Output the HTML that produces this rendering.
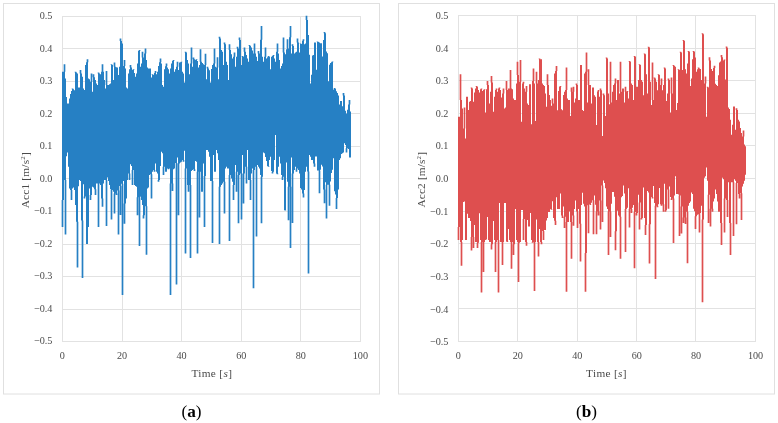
<!DOCTYPE html>
<html><head><meta charset="utf-8"><title>Acceleration time histories</title>
<style>
html,body{margin:0;padding:0;background:#fff;}
svg{display:block;}
.tk{font-family:"Liberation Serif",serif;font-size:11.3px;fill:#4a4a4a;}
.cap{font-family:"Liberation Serif",serif;font-size:17.2px;fill:#000;}
</style></head><body>
<svg width="778" height="423" viewBox="0 0 778 423">
<defs><filter id="soft" x="-2%" y="-2%" width="104%" height="104%"><feGaussianBlur stdDeviation="0.35"/></filter></defs>
<rect width="778" height="423" fill="#fff"/>
<rect x="3.5" y="3.5" width="376.0" height="390.5" fill="none" stroke="#e0e0e0" stroke-width="1"/>
<path d="M62 16.5H361M62 48.5H361M62 81.5H361M62 113.5H361M62 146.5H361M62 178.5H361M62 211.5H361M62 244.5H361M62 276.5H361M62 309.5H361M62 341.5H361M62.5 16V342M122.5 16V342M181.5 16V342M241.5 16V342M300.5 16V342M360.5 16V342" stroke="#e2e2e2" stroke-width="1" fill="none"/>
<path d="M62 71.8h1V227.0h-1ZM63 71.8h1V200.1h-1ZM64 64.3h1V180.1h-1ZM65 78.5h1V234.5h-1ZM66 97.0h1V156.3h-1ZM67 103.5h1V152.5h-1ZM68 103.5h1V166.7h-1ZM69 98.5h1V188.4h-1ZM70 94.0h1V190.1h-1ZM71 91.0h1V200.1h-1ZM72 88.5h1V188.4h-1ZM73 89.3h1V187.6h-1ZM74 90.2h1V190.1h-1ZM75 71.8h1V205.1h-1ZM76 72.6h1V221.7h-1ZM77 73.4h1V267.4h-1ZM78 87.6h1V186.3h-1ZM79 87.6h1V180.1h-1ZM80 70.1h1V181.1h-1ZM81 73.4h1V220.6h-1ZM82 76.8h1V278.0h-1ZM83 88.5h1V184.3h-1ZM84 90.0h1V198.5h-1ZM85 65.1h1V196.4h-1ZM86 62.2h1V244.0h-1ZM87 59.2h1V244.0h-1ZM88 78.5h1V227.0h-1ZM89 79.3h1V188.4h-1ZM90 81.8h1V200.1h-1ZM91 73.4h1V195.1h-1ZM92 91.8h1V186.8h-1ZM93 74.3h1V187.6h-1ZM94 77.2h1V189.3h-1ZM95 80.1h1V195.1h-1ZM96 83.5h1V183.4h-1ZM97 85.1h1V183.4h-1ZM98 72.6h1V227.0h-1ZM99 73.4h1V183.4h-1ZM100 74.3h1V185.1h-1ZM101 71.8h1V198.5h-1ZM102 64.3h1V206.8h-1ZM103 71.8h1V183.4h-1ZM104 80.1h1V180.1h-1ZM105 88.5h1V180.1h-1ZM106 70.9h1V226.0h-1ZM107 85.1h1V177.6h-1ZM108 85.1h1V180.9h-1ZM109 84.3h1V185.1h-1ZM110 83.5h1V189.3h-1ZM111 64.3h1V219.6h-1ZM112 65.1h1V190.1h-1ZM113 80.1h1V191.8h-1ZM114 62.6h1V213.5h-1ZM115 66.8h1V193.4h-1ZM116 67.2h1V195.1h-1ZM117 67.6h1V190.5h-1ZM118 75.1h1V234.5h-1ZM119 66.8h1V185.9h-1ZM120 38.4h1V215.0h-1ZM121 40.9h1V183.8h-1ZM122 43.4h1V295.0h-1ZM123 65.9h1V180.9h-1ZM124 60.1h1V223.8h-1ZM125 68.4h1V203.5h-1ZM126 87.6h1V198.5h-1ZM127 88.5h1V180.1h-1ZM128 73.4h1V173.4h-1ZM129 69.3h1V180.1h-1ZM130 65.1h1V164.2h-1ZM131 67.6h1V165.9h-1ZM132 70.1h1V185.1h-1ZM133 69.3h1V170.1h-1ZM134 73.0h1V185.1h-1ZM135 76.8h1V185.9h-1ZM136 73.4h1V186.8h-1ZM137 63.4h1V215.2h-1ZM138 50.9h1V197.2h-1ZM139 50.1h1V246.0h-1ZM140 66.8h1V196.8h-1ZM141 63.4h1V200.1h-1ZM142 51.7h1V205.1h-1ZM143 57.6h1V218.5h-1ZM144 53.4h1V215.2h-1ZM145 48.4h1V206.3h-1ZM146 60.1h1V254.7h-1ZM147 67.6h1V188.4h-1ZM148 68.4h1V187.6h-1ZM149 68.4h1V175.1h-1ZM150 68.4h1V174.2h-1ZM151 77.6h1V198.5h-1ZM152 74.3h1V171.7h-1ZM153 75.1h1V170.1h-1ZM154 73.0h1V171.7h-1ZM155 70.9h1V163.4h-1ZM156 74.3h1V171.7h-1ZM157 71.8h1V173.4h-1ZM158 65.9h1V181.7h-1ZM159 62.2h1V180.1h-1ZM160 58.4h1V165.9h-1ZM161 63.4h1V151.7h-1ZM162 85.1h1V153.3h-1ZM163 86.7h1V175.1h-1ZM164 69.3h1V166.7h-1ZM165 66.3h1V171.7h-1ZM166 63.4h1V171.7h-1ZM167 67.6h1V168.4h-1ZM168 69.3h1V169.2h-1ZM169 73.4h1V168.4h-1ZM170 68.4h1V295.0h-1ZM171 63.4h1V183.4h-1ZM172 60.9h1V190.9h-1ZM173 60.1h1V169.2h-1ZM174 71.8h1V168.4h-1ZM175 69.3h1V162.9h-1ZM176 66.8h1V284.5h-1ZM177 61.7h1V157.5h-1ZM178 70.1h1V215.3h-1ZM179 62.6h1V163.4h-1ZM180 62.2h1V162.5h-1ZM181 61.7h1V161.7h-1ZM182 71.8h1V160.0h-1ZM183 73.4h1V161.7h-1ZM184 82.5h1V150.8h-1ZM185 51.7h1V253.6h-1ZM186 52.6h1V168.4h-1ZM187 60.1h1V185.1h-1ZM188 63.4h1V191.8h-1ZM189 74.2h1V185.1h-1ZM190 63.5h1V257.9h-1ZM191 47.6h1V170.9h-1ZM192 66.8h1V170.1h-1ZM193 57.6h1V169.2h-1ZM194 59.3h1V170.9h-1ZM195 60.1h1V160.9h-1ZM196 59.3h1V161.7h-1ZM197 61.0h1V253.6h-1ZM198 67.6h1V171.7h-1ZM199 65.1h1V217.4h-1ZM200 49.3h1V171.7h-1ZM201 61.8h1V191.8h-1ZM202 63.0h1V191.8h-1ZM203 64.3h1V163.4h-1ZM204 65.1h1V227.0h-1ZM205 53.8h1V175.9h-1ZM206 79.2h1V150.0h-1ZM207 66.8h1V150.0h-1ZM208 68.5h1V151.7h-1ZM209 70.2h1V156.7h-1ZM210 82.5h1V180.9h-1ZM211 68.9h1V180.9h-1ZM212 65.1h1V243.0h-1ZM213 63.5h1V155.0h-1ZM214 48.4h1V171.7h-1ZM215 66.8h1V171.7h-1ZM216 67.6h1V150.0h-1ZM217 57.3h1V153.3h-1ZM218 79.2h1V160.0h-1ZM219 36.7h1V244.0h-1ZM220 38.4h1V186.8h-1ZM221 50.1h1V185.1h-1ZM222 51.8h1V183.4h-1ZM223 65.1h1V181.7h-1ZM224 42.6h1V213.5h-1ZM225 44.3h1V168.4h-1ZM226 61.8h1V166.7h-1ZM227 65.1h1V168.4h-1ZM228 80.0h1V168.4h-1ZM229 44.3h1V240.9h-1ZM230 50.1h1V175.1h-1ZM231 54.3h1V178.4h-1ZM232 58.5h1V181.7h-1ZM233 56.8h1V200.1h-1ZM234 52.6h1V185.1h-1ZM235 66.8h1V165.0h-1ZM236 56.8h1V191.8h-1ZM237 46.8h1V171.7h-1ZM238 48.4h1V223.2h-1ZM239 37.6h1V175.1h-1ZM240 40.1h1V173.4h-1ZM241 65.1h1V219.6h-1ZM242 55.9h1V155.0h-1ZM243 56.8h1V203.5h-1ZM244 47.6h1V173.4h-1ZM245 51.8h1V166.7h-1ZM246 55.1h1V183.4h-1ZM247 58.5h1V150.0h-1ZM248 61.8h1V180.1h-1ZM249 45.1h1V180.1h-1ZM250 45.9h1V200.1h-1ZM251 47.6h1V173.4h-1ZM252 50.5h1V168.4h-1ZM253 53.4h1V288.3h-1ZM254 43.4h1V170.1h-1ZM255 53.4h1V166.7h-1ZM256 56.8h1V236.6h-1ZM257 61.0h1V165.0h-1ZM258 50.9h1V166.7h-1ZM259 53.4h1V168.4h-1ZM260 39.7h1V175.1h-1ZM261 25.9h1V223.2h-1ZM262 56.8h1V176.7h-1ZM263 61.8h1V152.5h-1ZM264 56.8h1V153.3h-1ZM265 47.6h1V157.1h-1ZM266 58.5h1V160.9h-1ZM267 57.2h1V165.9h-1ZM268 55.9h1V166.7h-1ZM269 56.8h1V160.0h-1ZM270 69.3h1V156.7h-1ZM271 56.8h1V170.9h-1ZM272 55.9h1V173.4h-1ZM273 55.1h1V171.7h-1ZM274 58.5h1V160.0h-1ZM275 61.8h1V135.0h-1ZM276 51.8h1V173.4h-1ZM277 43.4h1V174.2h-1ZM278 53.4h1V166.7h-1ZM279 60.1h1V156.7h-1ZM280 68.5h1V163.4h-1ZM281 66.0h1V175.1h-1ZM282 63.5h1V180.1h-1ZM283 37.6h1V176.7h-1ZM284 52.6h1V210.2h-1ZM285 54.3h1V210.6h-1ZM286 49.3h1V162.5h-1ZM287 39.2h1V181.7h-1ZM288 48.4h1V220.3h-1ZM289 37.2h1V186.8h-1ZM290 25.9h1V248.0h-1ZM291 53.4h1V157.5h-1ZM292 44.3h1V222.9h-1ZM293 45.9h1V173.4h-1ZM294 53.4h1V170.1h-1ZM295 52.6h1V166.7h-1ZM296 51.8h1V171.7h-1ZM297 38.4h1V168.4h-1ZM298 42.6h1V170.1h-1ZM299 52.6h1V173.4h-1ZM300 43.4h1V188.0h-1ZM301 44.1h1V189.6h-1ZM302 40.8h1V193.4h-1ZM303 39.2h1V197.4h-1ZM304 44.3h1V190.1h-1ZM305 43.4h1V171.7h-1ZM306 15.8h1V166.7h-1ZM307 20.0h1V171.6h-1ZM308 35.1h1V273.4h-1ZM309 54.8h1V154.9h-1ZM310 83.4h1V156.7h-1ZM311 74.7h1V160.0h-1ZM312 55.6h1V159.9h-1ZM313 55.1h1V163.4h-1ZM314 42.6h1V166.7h-1ZM315 42.4h1V156.5h-1ZM316 69.7h1V156.5h-1ZM317 41.6h1V170.6h-1ZM318 42.0h1V170.6h-1ZM319 42.4h1V193.3h-1ZM320 43.2h1V169.8h-1ZM321 43.2h1V164.8h-1ZM322 56.5h1V166.5h-1ZM323 39.9h1V189.6h-1ZM324 32.0h1V203.2h-1ZM325 33.3h1V182.2h-1ZM326 51.5h1V218.5h-1ZM327 53.2h1V184.7h-1ZM328 81.3h1V184.7h-1ZM329 64.8h1V205.7h-1ZM330 63.1h1V181.4h-1ZM331 62.3h1V173.1h-1ZM332 61.4h1V169.8h-1ZM333 89.6h1V158.2h-1ZM334 87.9h1V191.3h-1ZM335 88.7h1V194.6h-1ZM336 91.2h1V209.0h-1ZM337 92.9h1V197.9h-1ZM338 95.6h1V189.6h-1ZM339 104.5h1V159.9h-1ZM340 101.0h1V158.2h-1ZM341 101.0h1V154.1h-1ZM342 106.3h1V153.2h-1ZM343 93.0h1V152.4h-1ZM344 95.6h1V143.3h-1ZM345 110.7h1V145.0h-1ZM346 113.4h1V152.4h-1ZM347 109.8h1V148.3h-1ZM348 104.5h1V149.1h-1ZM349 100.1h1V157.4h-1ZM350 111.6h1V157.4h-1ZM61.65 200.1H63.35V227.0H61.65ZM63.65 64.3H65.35V71.8H63.65ZM64.65 180.1H66.35V234.5H64.65ZM70.65 190.1H72.35V200.1H70.65ZM71.65 88.5H73.35V89.3H71.65ZM74.65 71.8H76.35V72.6H74.65ZM76.65 221.7H78.35V267.4H76.65ZM79.65 70.1H81.35V73.4H79.65ZM81.65 220.6H83.35V278.0H81.65ZM83.65 196.4H85.35V198.5H83.65ZM86.65 59.2H88.35V62.2H86.65ZM89.65 195.1H91.35V200.1H89.65ZM90.65 73.4H92.35V81.8H90.65ZM92.65 74.3H94.35V77.2H92.65ZM94.65 189.3H96.35V195.1H94.65ZM97.65 72.6H99.35V73.4H97.65ZM97.65 183.4H99.35V227.0H97.65ZM101.65 64.3H103.35V71.8H101.65ZM101.65 198.5H103.35V206.8H101.65ZM105.65 70.9H107.35V85.1H105.65ZM105.65 180.1H107.35V226.0H105.65ZM110.65 64.3H112.35V65.1H110.65ZM110.65 190.1H112.35V219.6H110.65ZM113.65 62.6H115.35V66.8H113.65ZM113.65 193.4H115.35V213.5H113.65ZM115.65 193.4H117.35V195.1H115.65ZM117.65 190.5H119.35V234.5H117.65ZM119.65 38.4H121.35V40.9H119.65ZM119.65 185.9H121.35V215.0H119.65ZM121.65 183.8H123.35V295.0H121.65ZM123.65 60.1H125.35V65.9H123.65ZM123.65 203.5H125.35V223.8H123.65ZM128.65 173.4H130.35V180.1H128.65ZM129.65 65.1H131.35V67.6H129.65ZM131.65 170.1H133.35V185.1H131.65ZM132.65 69.3H134.35V70.1H132.65ZM136.65 197.2H138.35V215.2H136.65ZM138.65 50.1H140.35V50.9H138.65ZM138.65 197.2H140.35V246.0H138.65ZM141.65 51.7H143.35V57.6H141.65ZM142.65 215.2H144.35V218.5H142.65ZM144.65 48.4H146.35V53.4H144.65ZM145.65 206.3H147.35V254.7H145.65ZM150.65 174.2H152.35V198.5H150.65ZM151.65 74.3H153.35V75.1H151.65ZM153.65 170.1H155.35V171.7H153.65ZM154.65 70.9H156.35V73.0H154.65ZM157.65 180.1H159.35V181.7H157.65ZM159.65 58.4H161.35V62.2H159.65ZM162.65 166.7H164.35V175.1H162.65ZM165.65 63.4H167.35V66.3H165.65ZM167.65 168.4H169.35V169.2H167.65ZM169.65 183.4H171.35V295.0H169.65ZM171.65 183.4H173.35V190.9H171.65ZM172.65 60.1H174.35V60.9H172.65ZM175.65 162.9H177.35V284.5H175.65ZM176.65 61.7H178.35V66.8H176.65ZM177.65 163.4H179.35V215.3H177.65ZM180.65 61.7H182.35V62.2H180.65ZM182.65 160.0H184.35V161.7H182.65ZM184.65 51.7H186.35V52.6H184.65ZM184.65 168.4H186.35V253.6H184.65ZM187.65 185.1H189.35V191.8H187.65ZM189.65 185.1H191.35V257.9H189.65ZM190.65 47.6H192.35V63.5H190.65ZM192.65 57.6H194.35V59.3H192.65ZM193.65 169.2H195.35V170.9H193.65ZM195.65 59.3H197.35V60.1H195.65ZM196.65 171.7H198.35V253.6H196.65ZM198.65 171.7H200.35V217.4H198.65ZM199.65 49.3H201.35V61.8H199.65ZM203.65 175.9H205.35V227.0H203.65ZM204.65 53.8H206.35V65.1H204.65ZM206.65 66.8H208.35V68.5H206.65ZM211.65 180.9H213.35V243.0H211.65ZM213.65 48.4H215.35V63.5H213.65ZM216.65 57.3H218.35V67.6H216.65ZM218.65 36.7H220.35V38.4H218.65ZM218.65 186.8H220.35V244.0H218.65ZM223.65 42.6H225.35V44.3H223.65ZM223.65 181.7H225.35V213.5H223.65ZM228.65 44.3H230.35V50.1H228.65ZM228.65 175.1H230.35V240.9H228.65ZM232.65 185.1H234.35V200.1H232.65ZM233.65 52.6H235.35V56.8H233.65ZM235.65 171.7H237.35V191.8H235.65ZM236.65 46.8H238.35V48.4H236.65ZM237.65 175.1H239.35V223.2H237.65ZM238.65 37.6H240.35V40.1H238.65ZM240.65 173.4H242.35V219.6H240.65ZM241.65 55.9H243.35V56.8H241.65ZM242.65 173.4H244.35V203.5H242.65ZM243.65 47.6H245.35V51.8H243.65ZM245.65 166.7H247.35V183.4H245.65ZM248.65 45.1H250.35V45.9H248.65ZM249.65 180.1H251.35V200.1H249.65ZM252.65 170.1H254.35V288.3H252.65ZM253.65 43.4H255.35V53.4H253.65ZM255.65 166.7H257.35V236.6H255.65ZM257.65 50.9H259.35V53.4H257.65ZM260.65 25.9H262.35V39.7H260.65ZM260.65 176.7H262.35V223.2H260.65ZM264.65 47.6H266.35V56.8H264.65ZM267.65 55.9H269.35V56.8H267.65ZM267.65 165.9H269.35V166.7H267.65ZM271.65 171.7H273.35V173.4H271.65ZM272.65 55.1H274.35V55.9H272.65ZM276.65 43.4H278.35V51.8H276.65ZM276.65 173.4H278.35V174.2H276.65ZM281.65 176.7H283.35V180.1H281.65ZM282.65 37.6H284.35V52.6H282.65ZM284.65 210.2H286.35V210.6H284.65ZM286.65 39.2H288.35V48.4H286.65ZM287.65 186.8H289.35V220.3H287.65ZM289.65 25.9H291.35V37.2H289.65ZM289.65 186.8H291.35V248.0H289.65ZM291.65 44.3H293.35V45.9H291.65ZM291.65 173.4H293.35V222.9H291.65ZM295.65 168.4H297.35V171.7H295.65ZM296.65 38.4H298.35V42.6H296.65ZM299.65 43.4H301.35V44.1H299.65ZM302.65 39.2H304.35V40.8H302.65ZM302.65 193.4H304.35V197.4H302.65ZM305.65 15.8H307.35V20.0H305.65ZM307.65 171.6H309.35V273.4H307.65ZM313.65 163.4H315.35V166.7H313.65ZM316.65 41.6H318.35V42.0H316.65ZM318.65 170.6H320.35V193.3H318.65ZM323.65 32.0H325.35V33.3H323.65ZM323.65 189.6H325.35V203.2H323.65ZM325.65 184.7H327.35V218.5H325.65ZM328.65 184.7H330.35V205.7H328.65ZM331.65 61.4H333.35V62.3H331.65ZM333.65 87.9H335.35V88.7H333.65ZM335.65 197.9H337.35V209.0H335.65ZM342.65 93.0H344.35V95.6H342.65ZM345.65 148.3H347.35V152.4H345.65ZM348.65 100.1H350.35V104.5H348.65Z" fill="#2880c4" filter="url(#soft)"/>
<text transform="translate(52.4,19.1) scale(0.9,1)" class="tk" text-anchor="end">0.5</text>
<text transform="translate(52.4,51.6) scale(0.9,1)" class="tk" text-anchor="end">0.4</text>
<text transform="translate(52.4,84.1) scale(0.9,1)" class="tk" text-anchor="end">0.3</text>
<text transform="translate(52.4,116.7) scale(0.9,1)" class="tk" text-anchor="end">0.2</text>
<text transform="translate(52.4,149.2) scale(0.9,1)" class="tk" text-anchor="end">0.1</text>
<text transform="translate(52.4,181.7) scale(0.9,1)" class="tk" text-anchor="end">0.0</text>
<text transform="translate(52.4,214.2) scale(0.9,1)" class="tk" text-anchor="end">−0.1</text>
<text transform="translate(52.4,246.7) scale(0.9,1)" class="tk" text-anchor="end">−0.2</text>
<text transform="translate(52.4,279.3) scale(0.9,1)" class="tk" text-anchor="end">−0.3</text>
<text transform="translate(52.4,311.8) scale(0.9,1)" class="tk" text-anchor="end">−0.4</text>
<text transform="translate(52.4,344.3) scale(0.9,1)" class="tk" text-anchor="end">−0.5</text>
<text transform="translate(62.4,359.0) scale(0.9,1)" class="tk" text-anchor="middle">0</text>
<text transform="translate(122.0,359.0) scale(0.9,1)" class="tk" text-anchor="middle">20</text>
<text transform="translate(181.6,359.0) scale(0.9,1)" class="tk" text-anchor="middle">40</text>
<text transform="translate(241.2,359.0) scale(0.9,1)" class="tk" text-anchor="middle">60</text>
<text transform="translate(300.8,359.0) scale(0.9,1)" class="tk" text-anchor="middle">80</text>
<text transform="translate(360.4,359.0) scale(0.9,1)" class="tk" text-anchor="middle">100</text>
<text x="191.4" y="376.7" class="tk" textLength="40.5" lengthAdjust="spacing">Time [<tspan font-style="italic">s</tspan>]</text>
<text transform="translate(28.8,208.3) rotate(-90)" class="tk" textLength="56" lengthAdjust="spacing">Acc1 [m/s<tspan dy="-4" font-size="7">2</tspan><tspan dy="4">]</tspan></text>
<text x="191.5" y="416.5" class="cap" text-anchor="middle">(<tspan font-weight="bold">a</tspan>)</text>
<rect x="398.5" y="3.5" width="376.0" height="390.5" fill="none" stroke="#e0e0e0" stroke-width="1"/>
<path d="M458 15.5H756M458 48.5H756M458 80.5H756M458 113.5H756M458 145.5H756M458 178.5H756M458 211.5H756M458 243.5H756M458 276.5H756M458 308.5H756M458 341.5H756M458.5 15V342M517.5 15V342M577.5 15V342M636.5 15V342M695.5 15V342M755.5 15V342" stroke="#e2e2e2" stroke-width="1" fill="none"/>
<path d="M458 116.8h1V240.0h-1ZM459 116.8h1V227.0h-1ZM460 74.2h1V242.0h-1ZM461 100.1h1V265.7h-1ZM462 108.5h1V240.0h-1ZM463 128.4h1V202.0h-1ZM464 107.5h1V201.6h-1ZM465 138.4h1V240.0h-1ZM466 96.8h1V240.0h-1ZM467 96.8h1V213.8h-1ZM468 110.0h1V218.0h-1ZM469 101.8h1V218.0h-1ZM470 101.0h1V221.0h-1ZM471 87.6h1V250.4h-1ZM472 88.4h1V237.0h-1ZM473 101.8h1V248.0h-1ZM474 92.6h1V225.0h-1ZM475 88.4h1V242.0h-1ZM476 85.9h1V242.0h-1ZM477 86.8h1V248.0h-1ZM478 90.1h1V242.7h-1ZM479 92.6h1V213.3h-1ZM480 89.3h1V240.0h-1ZM481 88.4h1V292.6h-1ZM482 90.9h1V242.0h-1ZM483 90.1h1V271.9h-1ZM484 89.3h1V242.0h-1ZM485 112.5h1V240.0h-1ZM486 89.3h1V239.6h-1ZM487 80.9h1V217.0h-1ZM488 85.1h1V240.0h-1ZM489 103.5h1V242.0h-1ZM490 91.8h1V242.0h-1ZM491 75.9h1V249.6h-1ZM492 82.6h1V244.2h-1ZM493 111.7h1V221.0h-1ZM494 96.8h1V240.0h-1ZM495 90.1h1V271.9h-1ZM496 88.4h1V242.0h-1ZM497 91.8h1V240.0h-1ZM498 88.4h1V292.6h-1ZM499 87.6h1V203.0h-1ZM500 90.1h1V242.0h-1ZM501 97.6h1V242.0h-1ZM502 93.4h1V265.0h-1ZM503 88.4h1V242.0h-1ZM504 108.5h1V203.0h-1ZM505 107.5h1V203.0h-1ZM506 80.9h1V241.5h-1ZM507 90.1h1V241.9h-1ZM508 88.4h1V229.0h-1ZM509 88.4h1V240.0h-1ZM510 70.1h1V242.0h-1ZM511 88.4h1V268.8h-1ZM512 89.3h1V242.0h-1ZM513 98.5h1V255.0h-1ZM514 100.1h1V244.2h-1ZM515 100.1h1V209.0h-1ZM516 83.4h1V240.0h-1ZM517 61.7h1V242.0h-1ZM518 75.1h1V281.9h-1ZM519 81.7h1V242.7h-1ZM520 60.0h1V242.0h-1ZM521 121.7h1V210.0h-1ZM522 83.4h1V210.0h-1ZM523 81.7h1V240.0h-1ZM524 88.4h1V219.0h-1ZM525 91.8h1V242.0h-1ZM526 85.9h1V245.8h-1ZM527 103.5h1V220.0h-1ZM528 105.0h1V226.6h-1ZM529 84.3h1V226.6h-1ZM530 84.3h1V213.0h-1ZM531 124.2h1V240.0h-1ZM532 80.9h1V242.7h-1ZM533 68.4h1V242.0h-1ZM534 83.4h1V291.0h-1ZM535 120.9h1V242.0h-1ZM536 71.7h1V219.5h-1ZM537 83.4h1V242.0h-1ZM538 80.1h1V256.5h-1ZM539 58.4h1V229.0h-1ZM540 59.2h1V242.0h-1ZM541 59.2h1V244.2h-1ZM542 83.4h1V231.0h-1ZM543 85.1h1V240.0h-1ZM544 85.9h1V230.0h-1ZM545 93.4h1V230.0h-1ZM546 106.7h1V220.5h-1ZM547 74.2h1V218.0h-1ZM548 85.1h1V212.0h-1ZM549 95.1h1V212.0h-1ZM550 100.1h1V209.0h-1ZM551 105.8h1V209.7h-1ZM552 98.5h1V201.2h-1ZM553 103.5h1V218.1h-1ZM554 73.4h1V220.7h-1ZM555 70.9h1V225.0h-1ZM556 65.9h1V197.3h-1ZM557 110.2h1V209.0h-1ZM558 90.9h1V209.0h-1ZM559 86.8h1V209.0h-1ZM560 85.9h1V193.4h-1ZM561 109.2h1V215.5h-1ZM562 110.2h1V218.1h-1ZM563 95.1h1V206.4h-1ZM564 91.8h1V228.0h-1ZM565 90.1h1V216.8h-1ZM566 67.5h1V291.8h-1ZM567 98.5h1V222.0h-1ZM568 100.1h1V222.0h-1ZM569 100.1h1V211.6h-1ZM570 115.9h1V222.0h-1ZM571 87.6h1V258.8h-1ZM572 91.8h1V215.5h-1ZM573 86.8h1V225.7h-1ZM574 102.5h1V209.0h-1ZM575 98.5h1V200.6h-1ZM576 83.4h1V211.6h-1ZM577 85.1h1V228.0h-1ZM578 100.1h1V209.0h-1ZM579 100.1h1V223.8h-1ZM580 65.1h1V261.6h-1ZM581 65.0h1V205.1h-1ZM582 110.0h1V192.8h-1ZM583 110.9h1V203.8h-1ZM584 73.4h1V206.4h-1ZM585 71.8h1V291.8h-1ZM586 52.6h1V253.0h-1ZM587 102.5h1V205.2h-1ZM588 69.3h1V233.2h-1ZM589 85.1h1V204.5h-1ZM590 85.1h1V205.1h-1ZM591 103.4h1V202.7h-1ZM592 87.6h1V200.2h-1ZM593 87.6h1V234.2h-1ZM594 95.2h1V195.4h-1ZM595 96.7h1V204.8h-1ZM596 125.0h1V234.2h-1ZM597 91.4h1V211.6h-1ZM598 89.9h1V215.5h-1ZM599 96.7h1V200.6h-1ZM600 88.5h1V229.5h-1ZM601 90.2h1V185.4h-1ZM602 136.0h1V222.0h-1ZM603 93.5h1V180.4h-1ZM604 95.2h1V183.0h-1ZM605 116.0h1V188.2h-1ZM606 57.6h1V206.4h-1ZM607 58.4h1V209.0h-1ZM608 93.5h1V255.0h-1ZM609 104.2h1V211.6h-1ZM610 61.7h1V237.0h-1ZM611 102.5h1V203.8h-1ZM612 91.8h1V192.1h-1ZM613 85.1h1V192.1h-1ZM614 83.5h1V196.8h-1ZM615 78.5h1V250.2h-1ZM616 100.0h1V231.3h-1ZM617 80.1h1V210.8h-1ZM618 80.1h1V215.5h-1ZM619 93.5h1V216.8h-1ZM620 61.7h1V258.8h-1ZM621 91.8h1V197.3h-1ZM622 88.5h1V196.0h-1ZM623 88.5h1V185.6h-1ZM624 102.5h1V193.4h-1ZM625 86.8h1V252.0h-1ZM626 91.8h1V209.0h-1ZM627 91.0h1V207.7h-1ZM628 98.4h1V188.2h-1ZM629 60.9h1V227.6h-1ZM630 61.7h1V209.0h-1ZM631 83.5h1V212.9h-1ZM632 85.1h1V207.7h-1ZM633 100.0h1V205.1h-1ZM634 55.9h1V268.2h-1ZM635 56.7h1V212.0h-1ZM636 86.8h1V215.5h-1ZM637 86.8h1V212.9h-1ZM638 80.1h1V194.7h-1ZM639 64.3h1V229.5h-1ZM640 65.1h1V202.5h-1ZM641 80.1h1V219.4h-1ZM642 81.8h1V218.1h-1ZM643 95.2h1V187.6h-1ZM644 53.4h1V218.1h-1ZM645 54.2h1V235.0h-1ZM646 74.3h1V225.0h-1ZM647 93.5h1V191.0h-1ZM648 46.7h1V192.5h-1ZM649 47.5h1V263.5h-1ZM650 81.8h1V224.2h-1ZM651 105.0h1V197.0h-1ZM652 62.6h1V198.4h-1ZM653 100.0h1V185.9h-1ZM654 77.6h1V202.9h-1ZM655 78.5h1V279.0h-1ZM656 81.8h1V205.8h-1ZM657 90.2h1V207.3h-1ZM658 74.3h1V204.3h-1ZM659 75.1h1V188.1h-1ZM660 85.1h1V204.3h-1ZM661 78.5h1V205.8h-1ZM662 90.2h1V204.3h-1ZM663 85.1h1V211.7h-1ZM664 67.6h1V183.7h-1ZM665 68.4h1V211.7h-1ZM666 100.9h1V210.3h-1ZM667 93.5h1V189.6h-1ZM668 78.5h1V208.8h-1ZM669 80.1h1V186.6h-1ZM670 112.6h1V197.0h-1ZM671 77.6h1V199.9h-1ZM672 93.5h1V198.4h-1ZM673 65.1h1V243.1h-1ZM674 65.9h1V195.5h-1ZM675 66.8h1V176.3h-1ZM676 110.0h1V194.0h-1ZM677 103.0h1V194.0h-1ZM678 69.3h1V194.5h-1ZM679 70.1h1V236.0h-1ZM680 51.7h1V195.5h-1ZM681 52.6h1V233.6h-1ZM682 70.1h1V206.6h-1ZM683 40.0h1V223.0h-1ZM684 40.9h1V217.6h-1ZM685 69.3h1V224.0h-1ZM686 73.4h1V211.7h-1ZM687 63.4h1V263.2h-1ZM688 50.9h1V205.8h-1ZM689 51.7h1V202.9h-1ZM690 86.0h1V201.4h-1ZM691 78.5h1V192.5h-1ZM692 59.2h1V194.0h-1ZM693 50.9h1V208.8h-1ZM694 51.7h1V211.2h-1ZM695 57.6h1V228.9h-1ZM696 71.8h1V216.2h-1ZM697 69.3h1V214.7h-1ZM698 67.6h1V214.2h-1ZM699 68.4h1V232.5h-1ZM700 68.9h1V213.2h-1ZM701 80.1h1V205.8h-1ZM702 33.3h1V302.2h-1ZM703 34.2h1V219.5h-1ZM704 83.5h1V177.7h-1ZM705 76.4h1V176.3h-1ZM706 116.7h1V167.4h-1ZM707 86.8h1V180.7h-1ZM708 87.6h1V223.0h-1ZM709 57.2h1V194.7h-1ZM710 60.4h1V226.5h-1ZM711 68.9h1V208.8h-1ZM712 71.1h1V211.7h-1ZM713 67.9h1V201.4h-1ZM714 65.7h1V198.4h-1ZM715 83.8h1V189.6h-1ZM716 84.9h1V194.0h-1ZM717 86.0h1V201.4h-1ZM718 75.3h1V211.7h-1ZM719 62.6h1V211.7h-1ZM720 61.5h1V223.0h-1ZM721 55.1h1V245.0h-1ZM722 57.2h1V177.7h-1ZM723 60.4h1V179.2h-1ZM724 59.4h1V232.5h-1ZM725 79.6h1V198.4h-1ZM726 46.6h1V199.9h-1ZM727 47.7h1V217.0h-1ZM728 107.4h1V182.2h-1ZM729 109.1h1V223.0h-1ZM730 119.8h1V254.9h-1ZM731 134.7h1V182.2h-1ZM732 124.8h1V182.2h-1ZM733 106.6h1V236.0h-1ZM734 106.6h1V179.2h-1ZM735 129.8h1V180.7h-1ZM736 108.2h1V224.2h-1ZM737 109.9h1V182.9h-1ZM738 119.8h1V194.0h-1ZM739 121.5h1V198.4h-1ZM740 128.1h1V193.3h-1ZM741 133.1h1V220.0h-1ZM742 136.4h1V186.6h-1ZM743 130.6h1V183.7h-1ZM744 144.6h1V180.7h-1ZM745 146.3h1V174.8h-1ZM457.65 227.0H459.35V240.0H457.65ZM459.65 74.2H461.35V100.1H459.65ZM460.65 242.0H462.35V265.7H460.65ZM463.65 107.5H465.35V128.4H463.65ZM470.65 87.6H472.35V88.4H470.65ZM470.65 237.0H472.35V250.4H470.65ZM472.65 237.0H474.35V248.0H472.65ZM475.65 85.9H477.35V86.8H475.65ZM476.65 242.7H478.35V248.0H476.65ZM480.65 88.4H482.35V89.3H480.65ZM480.65 242.0H482.35V292.6H480.65ZM482.65 242.0H484.35V271.9H482.65ZM483.65 89.3H485.35V90.1H483.65ZM486.65 80.9H488.35V85.1H486.65ZM490.65 75.9H492.35V82.6H490.65ZM490.65 244.2H492.35V249.6H490.65ZM494.65 242.0H496.35V271.9H494.65ZM495.65 88.4H497.35V90.1H495.65ZM497.65 240.0H499.35V292.6H497.65ZM498.65 87.6H500.35V88.4H498.65ZM501.65 242.0H503.35V265.0H501.65ZM502.65 88.4H504.35V93.4H502.65ZM505.65 80.9H507.35V90.1H505.65ZM506.65 241.5H508.35V241.9H506.65ZM509.65 70.1H511.35V88.4H509.65ZM510.65 242.0H512.35V268.8H510.65ZM512.65 244.2H514.35V255.0H512.65ZM516.65 61.7H518.35V75.1H516.65ZM517.65 242.7H519.35V281.9H517.65ZM519.65 60.0H521.35V81.7H519.65ZM522.65 81.7H524.35V83.4H522.65ZM522.65 219.0H524.35V240.0H522.65ZM525.65 85.9H527.35V91.8H525.65ZM525.65 242.0H527.35V245.8H525.65ZM531.65 242.0H533.35V242.7H531.65ZM532.65 68.4H534.35V80.9H532.65ZM533.65 242.0H535.35V291.0H533.65ZM535.65 71.7H537.35V83.4H535.65ZM537.65 242.0H539.35V256.5H537.65ZM538.65 58.4H540.35V59.2H538.65ZM540.65 242.0H542.35V244.2H540.65ZM542.65 231.0H544.35V240.0H542.65ZM546.65 74.2H548.35V85.1H546.65ZM550.65 209.0H552.35V209.7H550.65ZM551.65 98.5H553.35V103.5H551.65ZM554.65 220.7H556.35V225.0H554.65ZM555.65 65.9H557.35V70.9H555.65ZM559.65 85.9H561.35V86.8H559.65ZM561.65 215.5H563.35V218.1H561.65ZM563.65 216.8H565.35V228.0H563.65ZM565.65 67.5H567.35V90.1H565.65ZM565.65 222.0H567.35V291.8H565.65ZM570.65 87.6H572.35V91.8H570.65ZM570.65 222.0H572.35V258.8H570.65ZM572.65 86.8H574.35V91.8H572.65ZM572.65 215.5H574.35V225.7H572.65ZM575.65 83.4H577.35V85.1H575.65ZM576.65 211.6H578.35V228.0H576.65ZM579.65 223.8H581.35V261.6H579.65ZM584.65 253.0H586.35V291.8H584.65ZM585.65 52.6H587.35V71.8H585.65ZM587.65 69.3H589.35V85.1H587.65ZM587.65 205.2H589.35V233.2H587.65ZM589.65 204.5H591.35V205.1H589.65ZM592.65 200.2H594.35V234.2H592.65ZM595.65 211.6H597.35V234.2H595.65ZM597.65 89.9H599.35V91.4H597.65ZM597.65 211.6H599.35V215.5H597.65ZM599.65 88.5H601.35V90.2H599.65ZM599.65 200.6H601.35V229.5H599.65ZM601.65 185.4H603.35V222.0H601.65ZM602.65 93.5H604.35V95.2H602.65ZM605.65 57.6H607.35V58.4H605.65ZM607.65 211.6H609.35V255.0H607.65ZM609.65 61.7H611.35V102.5H609.65ZM609.65 211.6H611.35V237.0H609.65ZM614.65 78.5H616.35V83.5H614.65ZM614.65 231.3H616.35V250.2H614.65ZM619.65 61.7H621.35V91.8H619.65ZM619.65 216.8H621.35V258.8H619.65ZM624.65 86.8H626.35V91.8H624.65ZM624.65 209.0H626.35V252.0H624.65ZM626.65 91.0H628.35V91.8H626.65ZM628.65 60.9H630.35V61.7H628.65ZM628.65 209.0H630.35V227.6H628.65ZM630.65 209.0H632.35V212.9H630.65ZM633.65 55.9H635.35V56.7H633.65ZM633.65 212.0H635.35V268.2H633.65ZM635.65 212.9H637.35V215.5H635.65ZM638.65 64.3H640.35V65.1H638.65ZM638.65 202.5H640.35V229.5H638.65ZM640.65 218.1H642.35V219.4H640.65ZM643.65 53.4H645.35V54.2H643.65ZM644.65 225.0H646.35V235.0H644.65ZM647.65 46.7H649.35V47.5H647.65ZM648.65 224.2H650.35V263.5H648.65ZM651.65 62.6H653.35V100.0H651.65ZM651.65 197.0H653.35V198.4H651.65ZM653.65 77.6H655.35V78.5H653.65ZM654.65 205.8H656.35V279.0H654.65ZM656.65 205.8H658.35V207.3H656.65ZM657.65 74.3H659.35V75.1H657.65ZM660.65 78.5H662.35V85.1H660.65ZM660.65 204.3H662.35V205.8H660.65ZM662.65 204.3H664.35V211.7H662.65ZM663.65 67.6H665.35V68.4H663.65ZM664.65 210.3H666.35V211.7H664.65ZM667.65 78.5H669.35V80.1H667.65ZM667.65 189.6H669.35V208.8H667.65ZM670.65 77.6H672.35V93.5H670.65ZM670.65 198.4H672.35V199.9H670.65ZM672.65 65.1H674.35V65.9H672.65ZM672.65 198.4H674.35V243.1H672.65ZM677.65 69.3H679.35V70.1H677.65ZM678.65 195.5H680.35V236.0H678.65ZM679.65 51.7H681.35V52.6H679.65ZM680.65 206.6H682.35V233.6H680.65ZM682.65 40.0H684.35V40.9H682.65ZM682.65 217.6H684.35V223.0H682.65ZM684.65 217.6H686.35V224.0H684.65ZM686.65 211.7H688.35V263.2H686.65ZM687.65 50.9H689.35V51.7H687.65ZM692.65 50.9H694.35V51.7H692.65ZM694.65 216.2H696.35V228.9H694.65ZM697.65 67.6H699.35V68.4H697.65ZM698.65 214.2H700.35V232.5H698.65ZM701.65 33.3H703.35V34.2H701.65ZM701.65 219.5H703.35V302.2H701.65ZM704.65 76.4H706.35V83.5H704.65ZM706.65 86.8H708.35V87.6H706.65ZM707.65 194.7H709.35V223.0H707.65ZM708.65 57.2H710.35V60.4H708.65ZM709.65 208.8H711.35V226.5H709.65ZM711.65 208.8H713.35V211.7H711.65ZM713.65 65.7H715.35V67.9H713.65ZM720.65 55.1H722.35V57.2H720.65ZM720.65 223.0H722.35V245.0H720.65ZM723.65 59.4H725.35V60.4H723.65ZM723.65 198.4H725.35V232.5H723.65ZM725.65 46.6H727.35V47.7H725.65ZM726.65 199.9H728.35V217.0H726.65ZM729.65 223.0H731.35V254.9H729.65ZM732.65 182.2H734.35V236.0H732.65ZM735.65 108.2H737.35V109.9H735.65ZM735.65 182.9H737.35V224.2H735.65ZM738.65 194.0H740.35V198.4H738.65ZM740.65 193.3H742.35V220.0H740.65ZM742.65 130.6H744.35V136.4H742.65Z" fill="#de504f" filter="url(#soft)"/>
<text transform="translate(448.4,19.0) scale(0.9,1)" class="tk" text-anchor="end">0.5</text>
<text transform="translate(448.4,51.6) scale(0.9,1)" class="tk" text-anchor="end">0.4</text>
<text transform="translate(448.4,84.2) scale(0.9,1)" class="tk" text-anchor="end">0.3</text>
<text transform="translate(448.4,116.8) scale(0.9,1)" class="tk" text-anchor="end">0.2</text>
<text transform="translate(448.4,149.4) scale(0.9,1)" class="tk" text-anchor="end">0.1</text>
<text transform="translate(448.4,182.1) scale(0.9,1)" class="tk" text-anchor="end">0.0</text>
<text transform="translate(448.4,214.7) scale(0.9,1)" class="tk" text-anchor="end">−0.1</text>
<text transform="translate(448.4,247.3) scale(0.9,1)" class="tk" text-anchor="end">−0.2</text>
<text transform="translate(448.4,279.9) scale(0.9,1)" class="tk" text-anchor="end">−0.3</text>
<text transform="translate(448.4,312.5) scale(0.9,1)" class="tk" text-anchor="end">−0.4</text>
<text transform="translate(448.4,345.1) scale(0.9,1)" class="tk" text-anchor="end">−0.5</text>
<text transform="translate(458.4,359.0) scale(0.9,1)" class="tk" text-anchor="middle">0</text>
<text transform="translate(517.8,359.0) scale(0.9,1)" class="tk" text-anchor="middle">20</text>
<text transform="translate(577.2,359.0) scale(0.9,1)" class="tk" text-anchor="middle">40</text>
<text transform="translate(636.7,359.0) scale(0.9,1)" class="tk" text-anchor="middle">60</text>
<text transform="translate(696.1,359.0) scale(0.9,1)" class="tk" text-anchor="middle">80</text>
<text transform="translate(755.5,359.0) scale(0.9,1)" class="tk" text-anchor="middle">100</text>
<text x="586.1" y="376.7" class="tk" textLength="40.5" lengthAdjust="spacing">Time [<tspan font-style="italic">s</tspan>]</text>
<text transform="translate(424.7,207.5) rotate(-90)" class="tk" textLength="55.5" lengthAdjust="spacing">Acc2 [m/s<tspan dy="-4" font-size="7">2</tspan><tspan dy="4">]</tspan></text>
<text x="586.5" y="416.5" class="cap" text-anchor="middle">(<tspan font-weight="bold">b</tspan>)</text>
</svg>
</body></html>
